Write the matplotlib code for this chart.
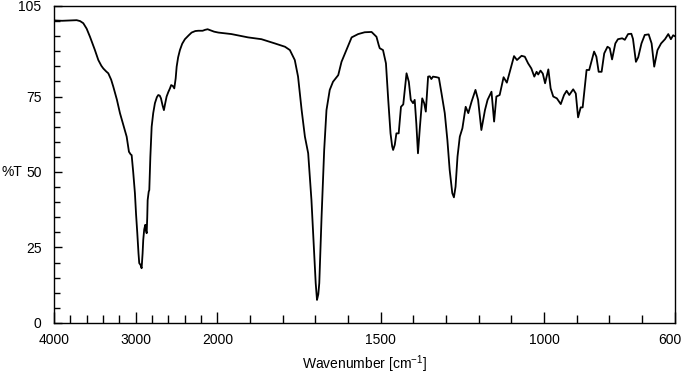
import numpy as np
import matplotlib
matplotlib.use("Agg")
import matplotlib.pyplot as plt
import matplotlib.transforms as mtransforms

# Espectro IR (numero de onda en cm-1, transmitancia en %)
numero_onda = [
    4000, 3990, 3900, 3800, 3722, 3680, 3641, 3600, 3559, 3500,
    3457, 3420, 3396, 3360, 3335, 3300, 3274, 3230, 3192, 3150,
    3110, 3082, 3060, 3049, 3030, 3009, 2995, 2980, 2965, 2956,
    2940, 2927, 2915, 2907, 2895, 2882, 2872, 2865, 2858, 2853,
    2840, 2833, 2820, 2804, 2785, 2764, 2740, 2723, 2705, 2690,
    2670, 2654, 2640, 2621, 2600, 2580, 2565, 2545, 2527, 2510,
    2498, 2480, 2458, 2430, 2397, 2350, 2315, 2270, 2233, 2180,
    2150, 2119, 2080, 2040, 1997, 1957, 1906, 1865, 1824, 1793,
    1778, 1763, 1753, 1742, 1732, 1722, 1712, 1704, 1699, 1695,
    1691, 1688, 1681, 1673, 1666, 1656, 1646, 1630, 1620, 1605,
    1589, 1569, 1549, 1528, 1513, 1506, 1503, 1493, 1484, 1477,
    1470, 1465, 1462, 1457, 1452, 1445, 1438, 1431, 1421, 1414,
    1408, 1401, 1396, 1391, 1386, 1380, 1373, 1367, 1362, 1355,
    1350, 1345, 1340, 1329, 1322, 1314, 1304, 1296, 1289, 1281,
    1276, 1271, 1265, 1258, 1250, 1240, 1232, 1222, 1210, 1202,
    1192, 1181, 1173, 1161, 1153, 1146, 1136, 1124, 1114, 1105,
    1092, 1083, 1069, 1059, 1049, 1039, 1030, 1023, 1018, 1011,
    1004, 997, 987, 980, 972, 961, 949, 939, 931, 923,
    911, 903, 896, 888, 882, 870, 862, 847, 840, 833,
    824, 816, 806, 799, 792, 782, 774, 761, 753, 743,
    733, 728, 719, 712, 702, 692, 680, 671, 663, 653,
    642, 630, 620, 612, 605, 600,
]
transmitancia = [
    100.6, 100.2, 100.1, 100.2, 100.3, 100.0, 99.3, 97.5, 94.8, 90.5,
    87.1, 85.2, 84.3, 83.3, 82.7, 80.6, 78.3, 74.0, 69.5, 65.5,
    61.7, 56.7, 55.8, 55.6, 50.0, 43.0, 36.0, 29.8, 23.0, 19.8,
    19.2, 18.1, 23.0, 27.5, 31.0, 32.5, 30.5, 29.7, 35.0, 40.7,
    43.5, 44.0, 55.0, 65.0, 69.5, 72.8, 74.8, 75.5, 75.3, 74.4,
    72.0, 70.5, 72.5, 75.0, 76.5, 77.7, 78.8, 78.5, 77.7, 81.0,
    84.9, 88.0, 90.4, 92.5, 94.0, 95.3, 96.2, 96.7, 96.8, 96.8,
    97.1, 97.3, 96.9, 96.5, 96.2, 95.7, 94.6, 94.0, 92.6, 91.5,
    90.4, 87.1, 81.6, 70.5, 61.7, 56.2, 40.7, 24.2, 13.2, 7.6,
    9.5, 13.2, 35.2, 57.3, 70.5, 77.2, 79.9, 82.1, 86.5, 90.4,
    94.6, 95.7, 96.3, 96.4, 94.8, 92.0, 91.0, 90.4, 86.0, 73.9,
    62.8, 58.5, 57.3, 59.0, 62.8, 62.8, 71.6, 72.4, 82.7, 79.9,
    73.9, 72.8, 73.9, 66.0, 56.2, 65.0, 74.4, 72.8, 70.0, 81.6,
    81.7, 80.8, 81.6, 81.4, 81.2, 76.1, 69.5, 60.6, 50.7, 43.0,
    41.6, 45.1, 55.1, 61.7, 64.5, 71.6, 69.5, 73.3, 77.2, 73.9,
    63.9, 70.5, 73.9, 76.6, 66.7, 75.0, 75.5, 81.4, 79.6, 83.2,
    88.4, 87.1, 88.5, 88.2, 86.0, 84.3, 81.6, 83.2, 82.3, 83.6,
    82.6, 79.4, 84.0, 77.7, 75.0, 74.4, 72.5, 75.5, 76.9, 75.5,
    77.4, 76.0, 68.1, 71.4, 71.4, 83.8, 83.8, 89.9, 88.2, 83.2,
    83.2, 89.3, 91.5, 91.0, 87.3, 92.6, 94.0, 94.3, 93.8, 95.7,
    95.8, 94.1, 86.5, 88.0, 92.6, 95.4, 95.6, 92.6, 84.9, 90.4,
    92.6, 94.0, 95.7, 94.0, 95.3, 95.0,
]

ticks_x = [4000, 3000, 2000, 1500, 1000, 600]
ticks_y = [0, 25, 50, 75, 105]


def escala_directa(x):
    """Comprime la zona por encima de 2000 cm-1 (factor 4)."""
    x = np.asarray(x, dtype=float)
    return np.where(x > 2000, 2000 + (x - 2000) / 4.0, x)


def escala_inversa(x):
    x = np.asarray(x, dtype=float)
    return np.where(x > 2000, 2000 + (x - 2000) * 4.0, x)


def generar_grafica():
    plt.rcParams['font.family'] = ['Liberation Sans', 'DejaVu Sans']
    fig = plt.figure(figsize=(6.83, 3.75), dpi=100)
    ax = fig.add_axes([0.079, 0.139, 0.909, 0.845])

    ax.plot(numero_onda, transmitancia, color='black', linewidth=1.3)

    ax.set_xscale('function', functions=(escala_directa, escala_inversa))
    ax.set_xlim(4000, 600)
    ax.set_ylim(0, 105)

    # marcas menores: cada 200 arriba de 2000, cada 100 abajo
    menores_x = [w for w in range(3800, 2000, -200) if w != 3000]
    menores_x += [w for w in range(1900, 600, -100) if w not in (1500, 1000)]
    ax.set_xticks(ticks_x)
    ax.set_xticks(menores_x, minor=True)
    ax.set_xticklabels([str(t) for t in ticks_x])
    ax.set_yticks(ticks_y)
    ax.set_yticks([v for v in range(5, 105, 5) if v not in ticks_y], minor=True)
    ax.set_yticklabels([str(t) for t in ticks_y])

    ax.tick_params(axis='x', which='major', direction='in', length=8, width=1.0,
                   labelsize=10, pad=7)
    ax.tick_params(axis='x', which='minor', direction='in', length=5.5, width=1.0)
    ax.tick_params(axis='y', which='major', direction='in', length=6, width=1.0,
                   labelsize=10, pad=9)
    ax.tick_params(axis='y', which='minor', direction='in', length=4, width=1.0)

    # la etiqueta 600 queda un poco a la izquierda del borde
    ultima = ax.get_xticklabels()[-1]
    desplaz = mtransforms.ScaledTranslation(-5 / 100, 0, fig.dpi_scale_trans)
    ultima.set_transform(ultima.get_transform() + desplaz)

    for lado in ax.spines.values():
        lado.set_linewidth(1.0)

    ax.set_xlabel('Wavenumber [cm$^{\\mathregular{-1}}$]', fontsize=10, labelpad=5)
    ax.set_ylabel('%T', fontsize=10, rotation=0, va='center', ha='left')
    ax.yaxis.set_label_coords(-0.0837, 50 / 105)

    fig.savefig('out.png', dpi=100)


def main():
    generar_grafica()


if __name__ == "__main__":
    main()
